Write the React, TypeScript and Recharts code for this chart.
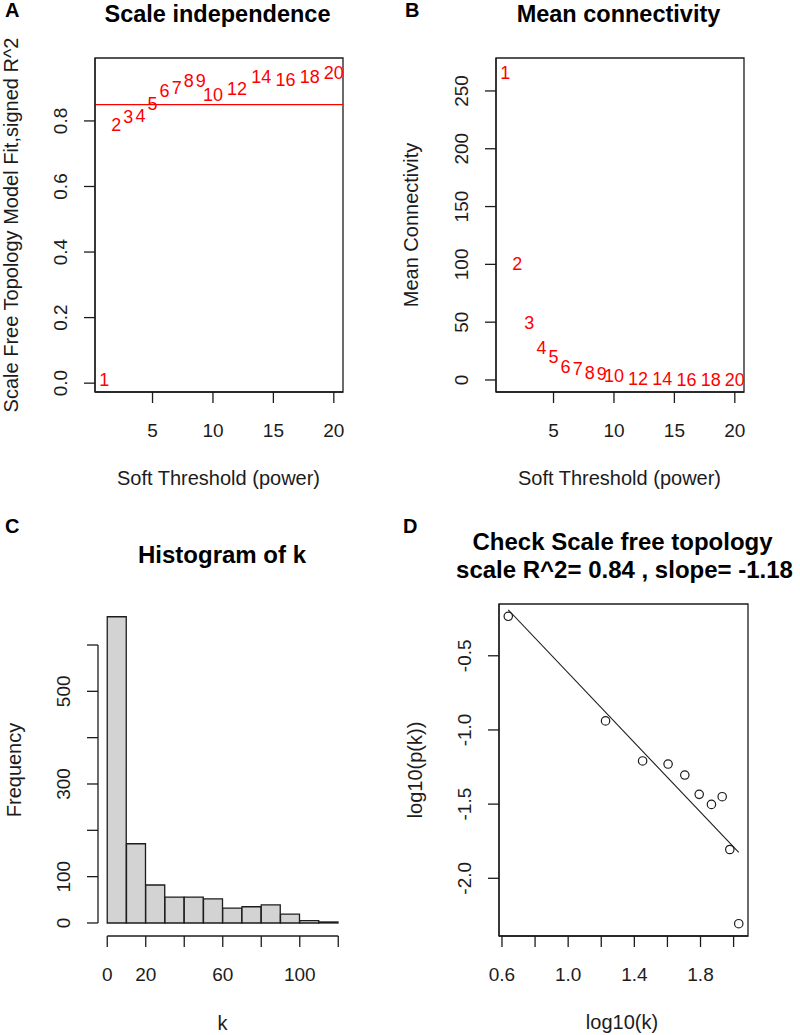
import {
  Bar,
  BarChart,
  ReferenceArea,
  ReferenceLine,
  Scatter,
  ScatterChart,
  XAxis,
  YAxis,
} from 'recharts'

const FONT = '"Liberation Sans", Arial, Helvetica, sans-serif'
const INK = '#1c1c1c'
const RED = '#ff0000'
const TICK_FONT = 19
const LW = 1.3

// A / B: soft-threshold scan
const powers = [1, 2, 3, 4, 5, 6, 7, 8, 9, 10, 12, 14, 16, 18, 20]
const fitR2 = [0.01, 0.788, 0.812, 0.815, 0.852, 0.892, 0.902, 0.923, 0.923, 0.881, 0.898, 0.937, 0.926, 0.936, 0.947]
const meanK = [266, 101, 50, 28.5, 20, 12, 10, 6.3, 5.8, 3.7, 1.6, 1.0, 0.6, 0.4, 0.3]
const r2Cut = 0.85
const powerTicks = [5, 10, 15, 20]
const r2Ticks = [0, 0.2, 0.4, 0.6, 0.8]
const meanKTicks = [0, 50, 100, 150, 200, 250]

// C: histogram of connectivity k
const kBins = ['0-10', '10-20', '20-30', '30-40', '40-50', '50-60', '60-70', '70-80', '80-90', '90-100', '100-110', '110-120']
const binMids = [5, 15, 25, 35, 45, 55, 65, 75, 85, 95, 105, 115]
const binCounts = [661, 171, 82, 56, 56, 52, 32, 35, 39, 19, 5, 0]
const kTicks = [0, 20, 40, 60, 80, 100, 120]
const kTickLabels = [0, 20, 60, 100]
const freqTicks = [0, 100, 200, 300, 400, 500, 600]
const freqTickLabels = [0, 100, 300, 500]

// D: scale-free fit
const logK = [0.638, 1.226, 1.45, 1.604, 1.705, 1.792, 1.866, 1.931, 1.977, 2.031]
const logPk = [-0.234, -0.939, -1.209, -1.23, -1.304, -1.434, -1.502, -1.45, -1.806, -2.306]
const fitLogK = [0.638, 2.031]
const fitLogPk = [-0.19, -1.826]
const logKTicks = [0.6, 0.8, 1.0, 1.2, 1.4, 1.6, 1.8, 2.0]
const logKTickLabels = [0.6, 1.0, 1.4, 1.8]
const logPkTicks = [-2.0, -1.5, -1.0, -0.5]

const POWER_DOMAIN: [number, number] = [0.24, 20.76]
const R2_DOMAIN: [number, number] = [-0.027, 0.992]
const MEANK_DOMAIN: [number, number] = [-10.4, 278.5]
const K_DOMAIN: [number, number] = [-4.8, 124.8]
const FREQ_DOMAIN: [number, number] = [-28.1, 687.4]
const LOGK_DOMAIN: [number, number] = [0.582, 2.087]
const LOGPK_DOMAIN: [number, number] = [-2.389, -0.151]

type Fmt = (v: number) => string
const int: Fmt = (v) => String(v)
const one: Fmt = (v) => v.toFixed(1)

const xTick = (fmt: Fmt, shown?: number[]) => (props: any) => {
  const { x, y, payload } = props
  if (shown && !shown.includes(payload.value)) return <g />
  return (
    <text x={x} y={y} dy="0.716em" textAnchor="middle" fill={INK} fontSize={TICK_FONT} fontFamily={FONT}>
      {fmt(payload.value)}
    </text>
  )
}

const yTick = (fmt: Fmt, shown?: number[]) => (props: any) => {
  const { x, y, payload } = props
  if (shown && !shown.includes(payload.value)) return <g />
  return (
    <text
      x={x}
      y={y}
      transform={`rotate(-90 ${x} ${y})`}
      textAnchor="middle"
      fill={INK}
      fontSize={TICK_FONT}
      fontFamily={FONT}
    >
      {fmt(payload.value)}
    </text>
  )
}

const axisStyle = {
  tickSize: 11,
  interval: 0 as const,
  tickLine: { stroke: INK, strokeWidth: LW },
  axisLine: { stroke: INK, strokeWidth: LW },
  allowDataOverflow: true,
}

const powerLabel = (props: any) => (
  <text
    x={props.cx}
    y={props.cy}
    dy="0.36em"
    textAnchor="middle"
    fill={RED}
    fontSize={18}
    fontFamily={FONT}
  >
    {props.payload.power}
  </text>
)

const openCircle = (props: any) => (
  <circle cx={props.cx} cy={props.cy} r={4.2} fill="none" stroke={INK} strokeWidth={1.2} />
)

function ScaleIndependence() {
  const data = powers.map((p, i) => ({ power: p, value: fitR2[i] }))
  return (
    <ScatterChart width={400} height={500} margin={{ top: 58, right: 57, bottom: 48, left: 0 }}>
      <XAxis
        type="number"
        dataKey="power"
        domain={POWER_DOMAIN}
        ticks={powerTicks}
        height={60}
        tickMargin={20}
        tick={xTick(int)}
        {...axisStyle}
      />
      <YAxis
        type="number"
        dataKey="value"
        domain={R2_DOMAIN}
        ticks={r2Ticks}
        width={95}
        tickMargin={17}
        tick={yTick(one)}
        {...axisStyle}
      />
      <ReferenceArea
        x1={POWER_DOMAIN[0]}
        x2={POWER_DOMAIN[1]}
        y1={R2_DOMAIN[0]}
        y2={R2_DOMAIN[1]}
        fill="none"
        stroke={INK}
        strokeWidth={LW}
        ifOverflow="visible"
      />
      <ReferenceLine y={r2Cut} stroke={RED} strokeWidth={1.2} />
      <Scatter data={data} shape={powerLabel} isAnimationActive={false} />
    </ScatterChart>
  )
}

function MeanConnectivity() {
  const data = powers.map((p, i) => ({ power: p, value: meanK[i] }))
  return (
    <ScatterChart width={400} height={500} margin={{ top: 58, right: 56, bottom: 48, left: 0 }}>
      <XAxis
        type="number"
        dataKey="power"
        domain={POWER_DOMAIN}
        ticks={powerTicks}
        height={60}
        tickMargin={20}
        tick={xTick(int)}
        {...axisStyle}
      />
      <YAxis
        type="number"
        dataKey="value"
        domain={MEANK_DOMAIN}
        ticks={meanKTicks}
        width={96}
        tickMargin={17}
        tick={yTick(int)}
        {...axisStyle}
      />
      <ReferenceArea
        x1={POWER_DOMAIN[0]}
        x2={POWER_DOMAIN[1]}
        y1={MEANK_DOMAIN[0]}
        y2={MEANK_DOMAIN[1]}
        fill="none"
        stroke={INK}
        strokeWidth={LW}
        ifOverflow="visible"
      />
      <Scatter data={data} shape={powerLabel} isAnimationActive={false} />
    </ScatterChart>
  )
}

function HistogramK() {
  const data = binCounts.map((c, i) => ({ bin: kBins[i], mid: binMids[i], count: c }))
  return (
    <BarChart
      width={400}
      height={535}
      data={data}
      margin={{ top: 104.5, right: 52.5, bottom: 39, left: 0 }}
      barCategoryGap={0}
      barGap={0}
    >
      <XAxis
        xAxisId="bins"
        dataKey="bin"
        type="category"
        orientation="top"
        height={0}
        hide
        padding={{ left: 9.24, right: 9.24 }}
      />
      <XAxis
        xAxisId="k"
        type="number"
        dataKey="mid"
        domain={K_DOMAIN}
        ticks={kTicks}
        height={60}
        tickMargin={20}
        tick={xTick(int, kTickLabels)}
        {...axisStyle}
        axisLine={false}
      />
      <YAxis
        type="number"
        domain={FREQ_DOMAIN}
        ticks={freqTicks}
        width={98}
        tickMargin={17}
        tick={yTick(int, freqTickLabels)}
        {...axisStyle}
        axisLine={false}
      />
      <ReferenceLine
        xAxisId="k"
        segment={[
          { x: kTicks[0], y: FREQ_DOMAIN[0] },
          { x: kTicks[kTicks.length - 1], y: FREQ_DOMAIN[0] },
        ]}
        stroke={INK}
        strokeWidth={LW}
        ifOverflow="visible"
      />
      <ReferenceLine
        xAxisId="k"
        segment={[
          { x: K_DOMAIN[0], y: freqTicks[0] },
          { x: K_DOMAIN[0], y: freqTicks[freqTicks.length - 1] },
        ]}
        stroke={INK}
        strokeWidth={LW}
        ifOverflow="visible"
      />
      <Bar
        xAxisId="bins"
        dataKey="count"
        fill="#d3d3d3"
        stroke={INK}
        strokeWidth={LW}
        minPointSize={1}
        isAnimationActive={false}
      />
    </BarChart>
  )
}

function ScaleFreeFit() {
  const data = logK.map((k, i) => ({ logK: k, logPk: logPk[i] }))
  return (
    <ScatterChart width={400} height={535} margin={{ top: 104, right: 52, bottom: 39, left: 0 }}>
      <XAxis
        type="number"
        dataKey="logK"
        domain={LOGK_DOMAIN}
        ticks={logKTicks}
        height={60}
        tickMargin={20}
        tick={xTick(one, logKTickLabels)}
        {...axisStyle}
      />
      <YAxis
        type="number"
        dataKey="logPk"
        domain={LOGPK_DOMAIN}
        ticks={logPkTicks}
        width={99}
        tickMargin={17}
        tick={yTick(one)}
        {...axisStyle}
      />
      <ReferenceArea
        x1={LOGK_DOMAIN[0]}
        x2={LOGK_DOMAIN[1]}
        y1={LOGPK_DOMAIN[0]}
        y2={LOGPK_DOMAIN[1]}
        fill="none"
        stroke={INK}
        strokeWidth={LW}
        ifOverflow="visible"
      />
      <ReferenceLine
        segment={[
          { x: fitLogK[0], y: fitLogPk[0] },
          { x: fitLogK[1], y: fitLogPk[1] },
        ]}
        stroke={INK}
        strokeWidth={1.1}
      />
      <Scatter data={data} shape={openCircle} isAnimationActive={false} />
    </ScatterChart>
  )
}

function Labels() {
  const bold = { fontFamily: FONT, fontWeight: 700, fill: '#000' }
  const reg = { fontFamily: FONT, fontSize: 20, fill: INK }
  const vText = (x: number, y: number, s: string) => (
    <text x={x} y={y} transform={`rotate(-90 ${x} ${y})`} textAnchor="middle" {...reg}>
      {s}
    </text>
  )
  return (
    <svg
      width={800}
      height={1035}
      style={{ position: 'absolute', left: 0, top: 0, pointerEvents: 'none' }}
    >
      <text x={5} y={17} fontSize={20} {...bold}>A</text>
      <text x={217.5} y={21.5} fontSize={23.5} textAnchor="middle" {...bold}>Scale independence</text>
      <text x={405} y={17} fontSize={20} {...bold}>B</text>
      <text x={618.5} y={21.5} fontSize={23.5} textAnchor="middle" {...bold}>Mean connectivity</text>
      <text x={5} y={533} fontSize={20} {...bold}>C</text>
      <text x={222} y={563} fontSize={24} textAnchor="middle" {...bold}>Histogram of k</text>
      <text x={403} y={533} fontSize={20} {...bold}>D</text>
      <text x={622.5} y={550} fontSize={24} textAnchor="middle" {...bold}>Check Scale free topology</text>
      <text x={624.5} y={578} fontSize={24} textAnchor="middle" {...bold}>scale R^2= 0.84 , slope= -1.18</text>

      <text x={218.5} y={485} textAnchor="middle" {...reg}>Soft Threshold (power)</text>
      <text x={619.5} y={485} textAnchor="middle" {...reg}>Soft Threshold (power)</text>
      <text x={222.5} y={1030} textAnchor="middle" {...reg}>k</text>
      <text x={622} y={1029} textAnchor="middle" {...reg}>log10(k)</text>

      {vText(17.5, 225, 'Scale Free Topology Model Fit,signed R^2')}
      {vText(418, 225, 'Mean Connectivity')}
      {vText(20.7, 770, 'Frequency')}
      {vText(421.5, 770, 'log10(p(k))')}
    </svg>
  )
}

export default function App() {
  return (
    <div style={{ position: 'absolute', left: 0, top: 0, width: 800, height: 1035, background: '#fff', fontFamily: FONT }}>
      <div style={{ position: 'absolute', left: 0, top: 0 }}>
        <ScaleIndependence />
      </div>
      <div style={{ position: 'absolute', left: 400, top: 0 }}>
        <MeanConnectivity />
      </div>
      <div style={{ position: 'absolute', left: 0, top: 500 }}>
        <HistogramK />
      </div>
      <div style={{ position: 'absolute', left: 400, top: 500 }}>
        <ScaleFreeFit />
      </div>
      <Labels />
    </div>
  )
}
